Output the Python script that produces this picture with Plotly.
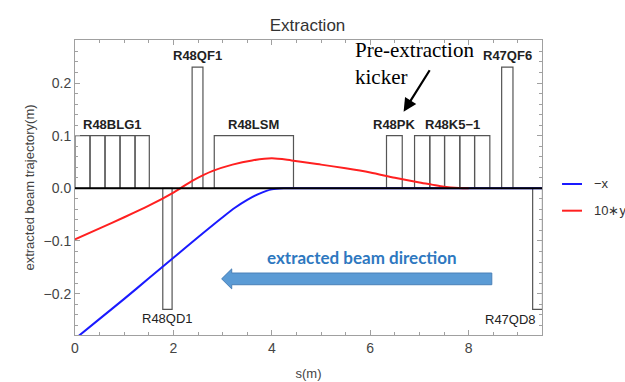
import plotly.graph_objects as go

# ---- beam trajectories (s in metres) ----
s_x = [0.0, 0.5, 1.0, 1.5, 2.0, 2.5, 3.0, 3.25, 3.5, 3.75, 4.0, 4.25, 4.5, 6.0, 8.0, 9.49]
neg_x = [-0.286, -0.248, -0.210, -0.171, -0.132, -0.093, -0.055, -0.037, -0.022, -0.010,
         -0.002, 0.0, 0.0, 0.0, 0.0, 0.0]

s_y = [0.0, 0.5, 1.0, 1.5, 2.0, 2.4, 2.8, 3.2, 3.6, 4.0, 4.4, 5.0, 5.5, 6.0, 6.5,
       7.0, 7.25, 7.5, 7.8, 8.0]
ten_y = [-0.097, -0.076, -0.055, -0.033, -0.008, 0.015, 0.033, 0.045, 0.053, 0.057,
         0.053, 0.045, 0.038, 0.030, 0.020, 0.011, 0.007, 0.003, 0.0005, 0.0]

# ---- lattice elements: name, segment boundaries, box height ----
elem_names = ["R48BLG1", "R48QD1", "R48QF1", "R48LSM", "R48PK", "R48K5\u22121", "R47QF6", "R47QD8"]
elem_edges = [
    [0.0, 0.305, 0.61, 0.915, 1.22, 1.51],
    [1.784, 1.973],
    [2.38, 2.60],
    [2.83, 4.44],
    [6.33, 6.65],
    [6.90, 7.21, 7.51, 7.82, 8.12, 8.43],
    [8.67, 8.90],
    [9.30, 9.50],
]
elem_height = [0.1, -0.23, 0.23, 0.1, 0.1, 0.1, 0.23, -0.23]

x_ticks = [0, 2, 4, 6, 8]
y_ticks = [-0.2, -0.1, 0.0, 0.1, 0.2]
x_range = [0, 9.49]
y_range = [-0.2786, 0.2817]

SANS = "Liberation Sans, Arial, sans-serif"
BOX = "#555555"

fig = go.Figure()

fig.add_trace(go.Scatter(x=s_x, y=neg_x, mode="lines", name="\u2212x",
                         line=dict(color="#1a1aff", width=2, shape="spline", smoothing=0.8),
                         showlegend=False))
fig.add_trace(go.Scatter(x=s_y, y=ten_y, mode="lines", name="10\u2217y",
                         line=dict(color="#ff2020", width=2, shape="spline", smoothing=0.8),
                         showlegend=False))

# element boxes, each split into its segments
for name, edges, h in zip(elem_names, elem_edges, elem_height):
    for a, b in zip(edges[:-1], edges[1:]):
        fig.add_shape(type="rect", x0=a, x1=b, y0=0, y1=h, xref="x", yref="y",
                      line=dict(color=BOX, width=1.2), fillcolor="rgba(0,0,0,0)",
                      layer="below")
    xc = (edges[0] + edges[-1]) / 2
    if name == "R47QD8":
        fig.add_annotation(x=9.41, y=h, xref="x", yref="y", text=name, showarrow=False,
                           xanchor="right", yanchor="middle", yshift=-10,
                           font=dict(family=SANS, size=13, color="#222222"))
    elif h > 0:
        fig.add_annotation(x=xc, y=h, xref="x", yref="y", text="<b>%s</b>" % name,
                           showarrow=False, xanchor="center", yanchor="middle", yshift=11.5,
                           font=dict(family=SANS, size=13, color="#222222"))
    else:
        fig.add_annotation(x=xc, y=h, xref="x", yref="y", text=name, showarrow=False,
                           xanchor="center", yanchor="middle", yshift=-9.5,
                           font=dict(family=SANS, size=13, color="#222222"))

# reference orbit line
fig.add_shape(type="line", x0=x_range[0], x1=x_range[1], y0=0, y1=0, xref="x", yref="y",
              line=dict(color="black", width=2), layer="above")

# extracted-beam direction arrow
tip, base, tail, yc, hw, hh = 2.98, 3.185, 8.47, -0.172, 0.0111, 0.019
path = (f"M {tip},{yc} L {base},{yc + hh} L {base},{yc + hw} L {tail},{yc + hw} "
        f"L {tail},{yc - hw} L {base},{yc - hw} L {base},{yc - hh} Z")
fig.add_shape(type="path", path=path, xref="x", yref="y",
              fillcolor="#5b9bd5", line=dict(color="#4a80b8", width=1))
fig.add_annotation(x=5.83, y=-0.131, xref="x", yref="y", showarrow=False,
                   text="<b>extracted beam direction</b>",
                   font=dict(family="Lato, sans-serif", size=17, color="#2e78c0"))

# kicker callout
fig.add_annotation(x=5.649, y=0.238, xref="x", yref="y", showarrow=False,
                   text="Pre-extraction<br>kicker", xanchor="left", yanchor="middle",
                   align="left",
                   font=dict(family="Liberation Serif, Times New Roman, serif", size=21,
                             color="black"))
fig.add_annotation(x=6.678, y=0.1455, xref="x", yref="y", ax=27, ay=-43, text="",
                   showarrow=True, arrowhead=2, arrowsize=1.2, arrowwidth=2.2,
                   arrowcolor="black")

# legend drawn beside the frame
legend_items = [("\u2212x", "#1a1aff", 0.5119), ("10\u2217y", "#ff2020", 0.4214)]
for label, color, yp in legend_items:
    fig.add_shape(type="line", xref="paper", yref="paper", x0=1.0429, x1=1.0857,
                  y0=yp, y1=yp, line=dict(color=color, width=2))
    fig.add_annotation(xref="paper", yref="paper", x=1.108, y=yp, text=label,
                       showarrow=False, xanchor="left", yanchor="middle",
                       font=dict(family=SANS, size=13, color="#333333"))

axis_common = dict(showline=True, linecolor="#a0a0a0", linewidth=1, mirror="allticks",
                   ticks="inside", ticklen=5, tickcolor="#a0a0a0", showgrid=False,
                   zeroline=False, automargin=False,
                   tickfont=dict(family=SANS, size=14, color="#444444"))

fig.update_layout(
    width=625, height=382,
    margin=dict(l=75, r=83.3, t=40, b=47),
    paper_bgcolor="white", plot_bgcolor="white",
    title=dict(text="Extraction", x=0.492, xanchor="center", y=0.935, yanchor="middle",
               font=dict(family=SANS, size=17, color="#333333")),
    xaxis=dict(range=x_range, tickvals=x_ticks, **axis_common,
               minor=dict(dtick=0.5, tick0=0, ticks="inside", ticklen=3,
                          tickcolor="#a0a0a0"),
               title=dict(text="s(m)", standoff=14,
                          font=dict(family=SANS, size=13, color="#444444"))),
    yaxis=dict(range=y_range, tickvals=y_ticks, tickformat=".1f", **axis_common,
               minor=dict(dtick=0.02, tick0=0, ticks="inside", ticklen=3,
                          tickcolor="#a0a0a0"),
               title=dict(text="extracted beam trajectory(m)", standoff=6,
                          font=dict(family=SANS, size=13, color="#444444"))),
    showlegend=False,
)

fig.write_html("out.html")
